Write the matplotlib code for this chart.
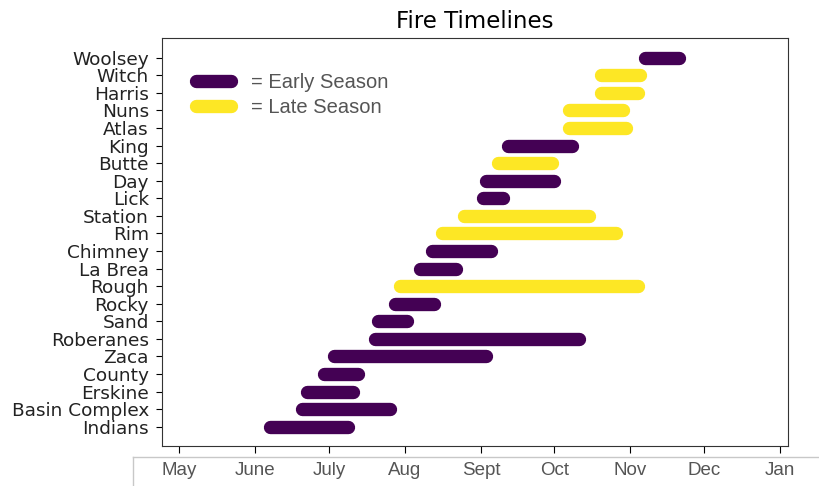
import matplotlib
matplotlib.use("Agg")
import matplotlib.pyplot as plt
from matplotlib.lines import Line2D

# fires from bottom to top, day-of-year start/end
fires = ["Indians", "Basin Complex", "Erskine", "County", "Zaca", "Roberanes",
         "Sand", "Rocky", "Rough", "La Brea", "Chimney", "Rim", "Station",
         "Lick", "Day", "Butte", "King", "Atlas", "Nuns", "Harris", "Witch",
         "Woolsey"]
start_day = [158, 171, 173, 180, 184, 201, 202, 209, 211, 219, 224, 228, 237,
             245, 246, 251, 255, 280, 280, 293, 293, 311]
end_day = [190, 207, 192, 194, 246, 284, 214, 225, 308, 234, 248, 299, 288,
           253, 274, 273, 281, 303, 302, 308, 309, 325]
season = ["early", "early", "early", "early", "early", "early", "early",
          "early", "late", "early", "early", "late", "late", "early", "early",
          "late", "early", "late", "late", "late", "late", "early"]

month_days = [121, 152, 182, 213, 244, 274, 305, 335, 366]
month_labels = ["May", "June", "July", "Aug", "Sept", "Oct", "Nov", "Dec", "Jan"]

colors = {"early": "#440154", "late": "#fde725"}
lw = 9.6

fig = plt.figure(figsize=(8.19, 4.86), dpi=100)
ax = fig.add_axes([0.1974, 0.0829, 0.7651, 0.8389])

for i, (s, e, kind) in enumerate(zip(start_day, end_day, season)):
    ax.plot([s, e], [i, i], color=colors[kind], lw=lw, solid_capstyle="round")

ax.set_xlim(113.8, 369.4)
ax.set_ylim(-1.08, len(fires) - 1 + 1.12)
ax.set_yticks(range(len(fires)))
ax.set_yticklabels(fires, fontsize=13.3, color="#222222")
ax.set_xticks(month_days)
ax.set_xticklabels(month_labels, fontsize=13.5, color="#555555",
                   family="Liberation Sans")
ax.tick_params(axis="y", length=4.2, pad=5)
ax.tick_params(axis="x", length=5, pad=7)
for sp in ax.spines.values():
    sp.set_color("#333333")

ax.set_title("Fire Timelines", fontsize=16.5, pad=7)

handles = [Line2D([], [], color=colors["early"], lw=lw, solid_capstyle="round"),
           Line2D([], [], color=colors["late"], lw=lw, solid_capstyle="round")]
leg = ax.legend(handles, ["= Early Season", "= Late Season"], loc="upper left",
                bbox_to_anchor=(0.0547, 0.915), borderaxespad=0, borderpad=0,
                frameon=False, handlelength=1.74, handletextpad=0.97,
                labelspacing=0.32,
                prop={"family": "Liberation Sans", "size": 14.5})
for t in leg.get_texts():
    t.set_color("#555555")

# light frame line under the date axis
y_line = 1 - 456.7 / 486
fig.add_artist(Line2D([133 / 819, 1.0], [y_line, y_line],
                      transform=fig.transFigure, color="#c8c8c8", lw=1))
fig.add_artist(Line2D([133 / 819, 133 / 819], [0, y_line],
                      transform=fig.transFigure, color="#c8c8c8", lw=1))

fig.savefig("out.png", dpi=100)
